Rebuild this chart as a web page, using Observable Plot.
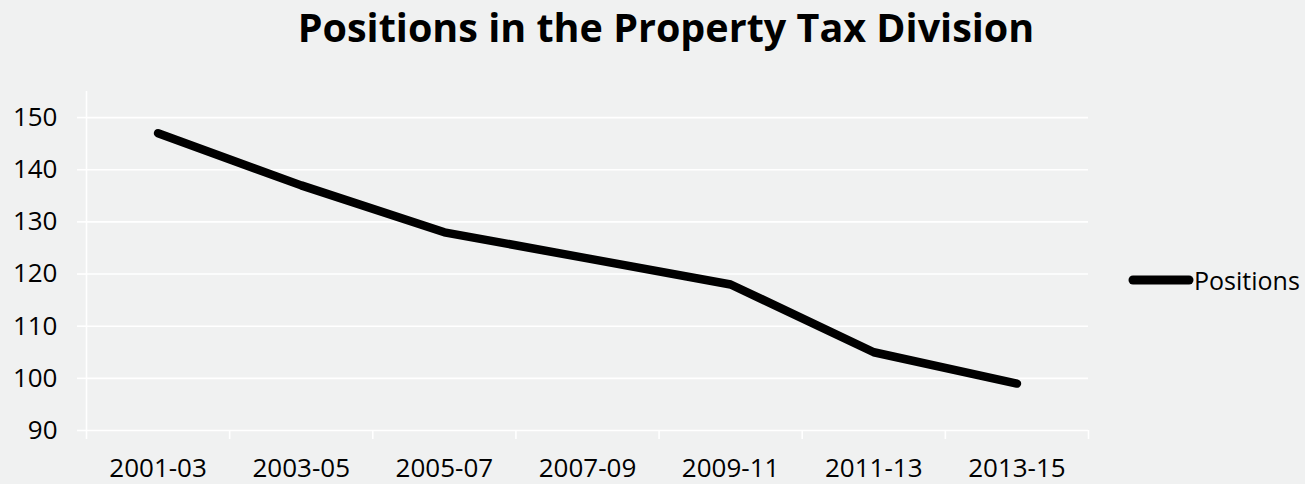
<!DOCTYPE html>
<html>
<head>
<meta charset="utf-8">
<script src="https://cdn.jsdelivr.net/npm/d3@7"></script>
<script src="https://cdn.jsdelivr.net/npm/@observablehq/plot@0.6"></script>
<style>
  html, body { margin: 0; padding: 0; background: #f0f1f1; }
  #wrap { position: relative; width: 1305px; height: 484px; overflow: hidden; font-family: "Open Sans", sans-serif; }
  #title { position: absolute; left: 666px; top: 8px; transform: translateX(-50%); white-space: nowrap; font-size: 39.5px; font-weight: 700; color: #000; line-height: 39.5px; }
  #legend { position: absolute; left: 1128px; top: 264px; display: flex; align-items: center; font-size: 25px; line-height: 32px; color: #000; }
  #chart { position: absolute; left: 0; top: 0; }
</style>
</head>
<body>
<div id="wrap">
  <div id="chart"></div>
  <div id="title">Positions in the Property Tax Division</div>
  <div id="legend"></div>
</div>
<script>
const periods = ["2001-03", "2003-05", "2005-07", "2007-09", "2009-11", "2011-13", "2013-15"];
const positions = [147, 137, 128, 123, 118, 105, 99];
const yTicks = [90, 100, 110, 120, 130, 140, 150];
const seriesName = "Positions";

const data = periods.map((p, i) => ({idx: i, period: p, value: positions[i]}));
const boundaries = d3.range(-0.5, periods.length, 1);

const chart = Plot.plot({
  width: 1305,
  height: 484,
  marginLeft: 86,
  marginRight: 217,
  marginTop: 91,
  marginBottom: 54,
  style: {background: "transparent", fontFamily: "Open Sans, sans-serif", color: "#000"},
  x: {type: "linear", domain: [-0.5, periods.length - 0.5]},
  y: {domain: [90, 155]},
  marks: [
    Plot.ruleY(yTicks, {stroke: "white", strokeWidth: 1.6}),
    Plot.ruleX([-0.5], {stroke: "white", strokeWidth: 1.6}),
    Plot.axisY({ticks: yTicks, tickSize: 9, stroke: "white", strokeWidth: 1.6, tickPadding: 20, fill: "#000", fontSize: 26, label: null}),
    Plot.axisX({ticks: boundaries, tickSize: 9, stroke: "white", strokeWidth: 1.6, tickFormat: () => "", label: null}),
    Plot.axisX({ticks: d3.range(periods.length), tickSize: 0, tickPadding: 28, tickFormat: i => periods[i], fill: "#000", fontSize: 26, label: null}),
    Plot.line(data, {x: "idx", y: "value", stroke: "#000", strokeWidth: 8.5, strokeLinecap: "round", strokeLinejoin: "round"})
  ]
});
document.getElementById("chart").appendChild(chart);

const legend = document.getElementById("legend");
legend.innerHTML = `<svg width="66" height="16"><line x1="5" y1="8" x2="61" y2="8" stroke="#000" stroke-width="9" stroke-linecap="round"/></svg><span>${seriesName}</span>`;
</script>
</body>
</html>
